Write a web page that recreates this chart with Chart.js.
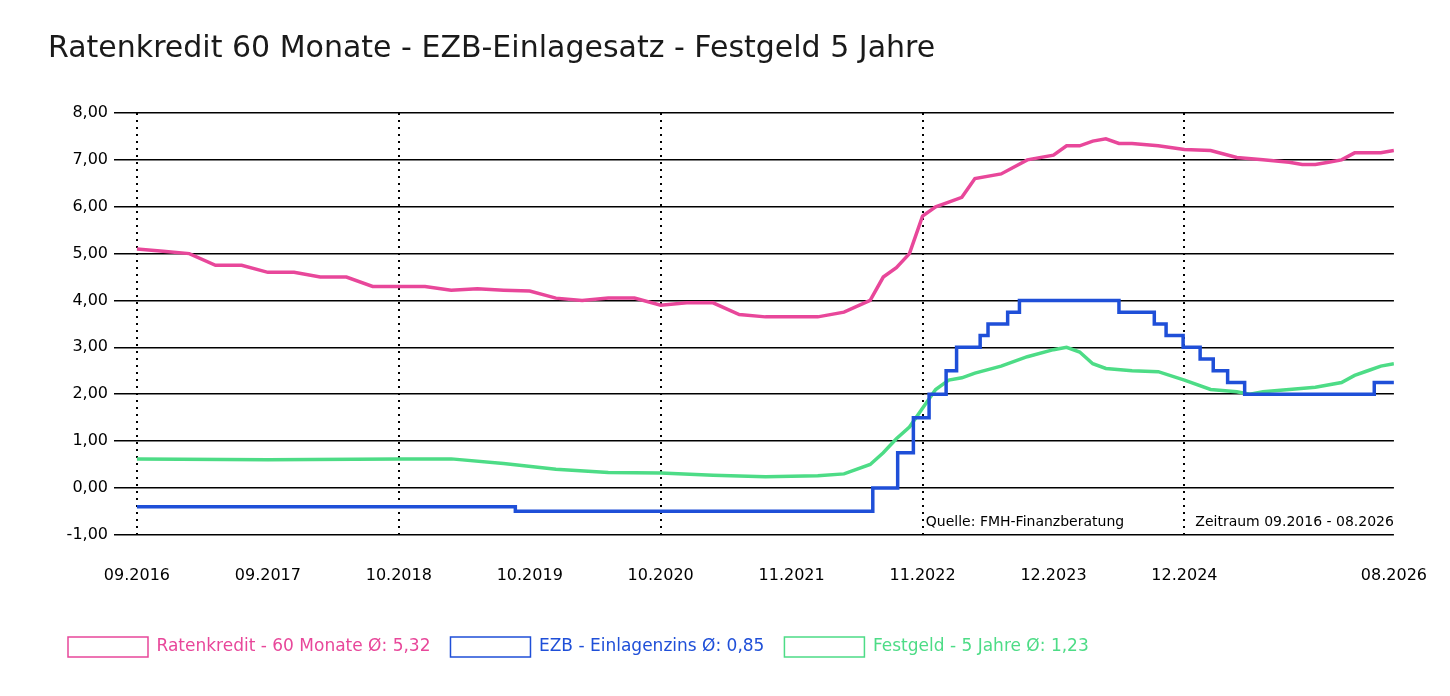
<!DOCTYPE html>
<html><head><meta charset="utf-8">
<script src="https://cdn.jsdelivr.net/npm/chart.js@4"></script>
<style>body{margin:0;background:#fff}#wrap{width:1450px;height:696px}</style>
</head><body><div id="wrap"><canvas id="c"></canvas></div>
<script>
// Zeitachse: 10 Einheiten = ein Beschriftungsabstand
const tickPos = [0,10,20,30,40,50,60,70,80,96];
const tickLabels = ["09.2016","09.2017","10.2018","10.2019","10.2020","11.2021","11.2022","12.2023","12.2024","08.2026"];

const ratenX = [0,2,4,6,8,10,12,14,16,18,20,22,24,26,28,30,32,34,36,38,40,42,44,46,48,50,52,54,56,57,58,59,60,61,62,63,64,66,68,70,71,72,73,74,75,76,78,80,82,84,86,88,89,90,91,92,93,94,95,96];
const ratenY = [5.1,5.05,5.0,4.75,4.75,4.6,4.6,4.5,4.5,4.3,4.3,4.3,4.22,4.25,4.22,4.2,4.05,4.0,4.05,4.05,3.9,3.95,3.95,3.7,3.65,3.65,3.65,3.75,4.0,4.5,4.7,5.0,5.8,6.0,6.1,6.2,6.6,6.7,7.0,7.1,7.3,7.3,7.4,7.45,7.35,7.35,7.3,7.22,7.2,7.05,7.0,6.95,6.9,6.9,6.95,7.0,7.15,7.15,7.15,7.2];

const festX = [0,10,20,24,28,32,36,40,44,48,50,52,54,56,57,58,59,60,61,62,63,64,66,68,70,71,72,73,74,76,78,80,82,84,85,86,88,90,92,93,94,95,96];
const festY = [0.62,0.6,0.62,0.62,0.52,0.4,0.33,0.32,0.27,0.24,0.25,0.26,0.3,0.5,0.75,1.05,1.3,1.7,2.1,2.3,2.35,2.45,2.6,2.8,2.95,3.0,2.9,2.65,2.55,2.5,2.48,2.3,2.1,2.05,2.0,2.05,2.1,2.15,2.25,2.4,2.5,2.6,2.65];

// EZB: Zeitpunkte der Zinsänderung und neuer Satz
const ezbX = [0,28.9,56.2,58.1,59.3,60.5,61.8,62.6,64.4,65.0,66.5,67.4,75.0,77.7,78.6,79.9,81.2,82.2,83.3,84.6,94.5,96];
const ezbY = [-0.4,-0.5,0.0,0.75,1.5,2.0,2.5,3.0,3.25,3.5,3.75,4.0,3.75,3.5,3.25,3.0,2.75,2.5,2.25,2.0,2.25,2.25];

const pink = "#e8479a", blue = "#1f4fd8", green = "#4ddc86";
const pts = (xs, ys) => xs.map((x, i) => ({x: x, y: ys[i]}));

const extras = {
  id: "extras",
  beforeDatasetsDraw(chart) {
    // gepunktete senkrechte Linien
    const ctx = chart.ctx, a = chart.chartArea, x = chart.scales.x;
    ctx.save();
    ctx.strokeStyle = "#000"; ctx.lineWidth = 2; ctx.setLineDash([2, 5]);
    [0, 20, 40, 60, 80].forEach(v => {
      const px = Math.round(x.getPixelForValue(v));
      ctx.beginPath(); ctx.moveTo(px, a.top); ctx.lineTo(px, a.bottom); ctx.stroke();
    });
    ctx.restore();
  },
  afterDraw(chart) {
    const ctx = chart.ctx, a = chart.chartArea;
    ctx.save();
    ctx.font = "14px 'DejaVu Sans'";
    ctx.fillStyle = "#000";
    ctx.textBaseline = "middle";
    ctx.textAlign = "center";
    ctx.fillText("Quelle: FMH-Finanzberatung", 1025, 522);
    ctx.textAlign = "right";
    ctx.fillText("Zeitraum 09.2016 - 08.2026", a.right, 522);
    ctx.restore();
  }
};

new Chart(document.getElementById("c"), {
  type: "line",
  data: {
    datasets: [
      {label: "Ratenkredit - 60 Monate Ø: 5,32", data: pts(ratenX, ratenY), borderColor: pink, borderWidth: 3.5, pointRadius: 0},
      {label: "EZB - Einlagenzins Ø: 0,85", data: pts(ezbX, ezbY), borderColor: blue, borderWidth: 3.5, pointRadius: 0, stepped: "before"},
      {label: "Festgeld - 5 Jahre Ø: 1,23", data: pts(festX, festY), borderColor: green, borderWidth: 3.5, pointRadius: 0}
    ]
  },
  options: {
    responsive: true,
    maintainAspectRatio: false,
    animation: false,
    layout: {padding: {left: 48, right: 40, top: 31, bottom: 29}},
    plugins: {
      title: {display: true, text: "Ratenkredit 60 Monate - EZB-Einlagesatz - Festgeld 5 Jahre", align: "start",
        color: "#1a1a1a", font: {family: "DejaVu Sans", size: 30, weight: "normal"}, padding: {top: 0, bottom: 46}},
      legend: {
        position: "bottom", align: "start",
        labels: {
          boxWidth: 80, boxHeight: 20, padding: 20,
          font: {family: "DejaVu Sans", size: 17},
          generateLabels(chart) {
            return chart.data.datasets.map((d, i) => ({
              text: d.label, fillStyle: "rgba(0,0,0,0)", strokeStyle: d.borderColor,
              lineWidth: 1.5, fontColor: d.borderColor, datasetIndex: i
            }));
          }
        }
      },
      tooltip: {enabled: false}
    },
    scales: {
      x: {
        type: "linear", min: -1.14, max: 96,
        afterBuildTicks(s) { s.ticks = tickPos.map(v => ({value: v})); },
        afterFit(s) { s.height += 9; },
        ticks: {
          autoSkip: false, maxRotation: 0, color: "#000", padding: 23,
          font: {family: "DejaVu Sans", size: 16},
          callback: v => tickLabels[tickPos.indexOf(v)]
        },
        grid: {display: false},
        border: {display: false}
      },
      y: {
        min: -1, max: 8,
        afterFit(s) { s.width = 74; },
        ticks: {stepSize: 1, color: "#000", font: {family: "DejaVu Sans", size: 16}, padding: 6,
          callback: v => v.toFixed(2).replace(".", ",")},
        grid: {color: "#000", lineWidth: 1.5, tickLength: 8},
        border: {display: false}
      }
    }
  },
  plugins: [extras]
});
</script></body></html>
